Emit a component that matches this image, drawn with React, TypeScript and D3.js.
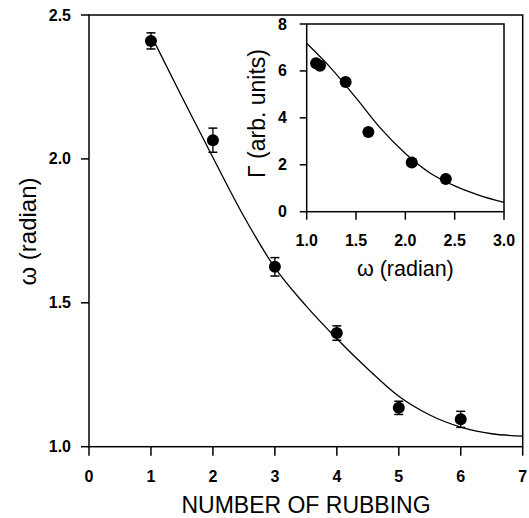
import React from "react";
import * as d3 from "d3";

const rubbing = [1, 2, 3, 4, 5, 6];
const omega = [2.41, 2.065, 1.625, 1.395, 1.135, 1.095];
const omegaErr = [0.028, 0.042, 0.032, 0.025, 0.023, 0.028];

const fitX = [1, 1.5, 2, 2.5, 3, 3.5, 4, 4.5, 5, 5.5, 6, 6.5, 7];
const fitY = [2.43, 2.215, 2.005, 1.8, 1.622, 1.49, 1.375, 1.27, 1.175, 1.11, 1.068, 1.045, 1.037];

// Γ for each ω point (same order as omega)
const gamma = [1.39, 2.1, 3.4, 5.53, 6.22, 6.33];
const insetFitX = [1.0, 1.25, 1.5, 1.75, 2.0, 2.25, 2.5, 2.75, 3.0];
const insetFitY = [7.18, 6.1, 4.85, 3.55, 2.48, 1.65, 1.1, 0.7, 0.4];

const mainXTicks = [0, 1, 2, 3, 4, 5, 6, 7];
const mainYTicks = [1.0, 1.5, 2.0, 2.5];
const insetXTicks = [1.0, 1.5, 2.0, 2.5, 3.0];
const insetYTicks = [0, 2, 4, 6, 8];

const FONT = "'Liberation Sans', Arial, Helvetica, sans-serif";

export default function App() {
  const W = 529, H = 518;
  const x = d3.scaleLinear().domain([0, 7]).range([89, 522.7]);
  const y = d3.scaleLinear().domain([1, 2.5]).range([446.7, 15]);
  const ix = d3.scaleLinear().domain([1, 3]).range([306.7, 504]);
  const iy = d3.scaleLinear().domain([0, 8]).range([211.7, 24]);

  const mainLine = d3
    .line<number>()
    .x((d, i) => x(fitX[i]))
    .y((d) => y(d))
    .curve(d3.curveMonotoneX)(fitY) as string;
  const insetLine = d3
    .line<number>()
    .x((d, i) => ix(insetFitX[i]))
    .y((d) => iy(d))
    .curve(d3.curveMonotoneX)(insetFitY) as string;

  const axisW = 1.5;
  const tickLen = 8;

  return (
    <svg
      width={W}
      height={H}
      style={{ position: "absolute", left: 0, top: 0, background: "#fff" }}
      fontFamily={FONT}
    >
      <rect x={0} y={0} width={W} height={H} fill="#fff" />
      {/* main frame */}
      <rect
        x={x(0)}
        y={y(2.5)}
        width={x(7) - x(0)}
        height={y(1) - y(2.5)}
        fill="none"
        stroke="#000"
        strokeWidth={axisW}
      />
      {mainXTicks.map((t) => (
        <g key={"mx" + t}>
          <line x1={x(t)} x2={x(t)} y1={y(1)} y2={y(1) + tickLen + 1} stroke="#000" strokeWidth={axisW} />
          <text x={x(t)} y={482} textAnchor="middle" fontSize={16} fontWeight="bold">
            {t}
          </text>
        </g>
      ))}
      {mainYTicks.map((t) => (
        <g key={"my" + t}>
          <line x1={x(0) - tickLen} x2={x(0)} y1={y(t)} y2={y(t)} stroke="#000" strokeWidth={axisW} />
          <text x={71} y={y(t) + 5.5} textAnchor="end" fontSize={16} fontWeight="bold">
            {d3.format(".1f")(t)}
          </text>
        </g>
      ))}
      <text x={306} y={513} textAnchor="middle" fontSize={23}>
        NUMBER OF RUBBING
      </text>
      <text
        transform={`translate(35.5,231.5) rotate(-90)`}
        textAnchor="middle"
        fontSize={24}
      >
        ω (radian)
      </text>
      <path d={mainLine} fill="none" stroke="#000" strokeWidth={1.3} />
      {rubbing.map((r, i) => (
        <g key={"mp" + i}>
          <line x1={x(r)} x2={x(r)} y1={y(omega[i] - omegaErr[i])} y2={y(omega[i] + omegaErr[i])} stroke="#000" strokeWidth={1.3} />
          <line x1={x(r) - 4.5} x2={x(r) + 4.5} y1={y(omega[i] - omegaErr[i])} y2={y(omega[i] - omegaErr[i])} stroke="#000" strokeWidth={1.5} />
          <line x1={x(r) - 4.5} x2={x(r) + 4.5} y1={y(omega[i] + omegaErr[i])} y2={y(omega[i] + omegaErr[i])} stroke="#000" strokeWidth={1.5} />
          <circle cx={x(r)} cy={y(omega[i])} r={6} fill="#000" />
        </g>
      ))}

      {/* inset */}
      <rect
        x={ix(1)}
        y={iy(8)}
        width={ix(3) - ix(1)}
        height={iy(0) - iy(8)}
        fill="#fff"
        stroke="#000"
        strokeWidth={axisW}
      />
      {insetXTicks.map((t) => (
        <g key={"ix" + t}>
          <line x1={ix(t)} x2={ix(t)} y1={iy(0)} y2={iy(0) + 8} stroke="#000" strokeWidth={axisW} />
          <text x={ix(t)} y={245.7} textAnchor="middle" fontSize={16} fontWeight="bold">
            {d3.format(".1f")(t)}
          </text>
        </g>
      ))}
      {insetYTicks.map((t) => (
        <g key={"iy" + t}>
          <line x1={ix(1) - 7} x2={ix(1)} y1={iy(t)} y2={iy(t)} stroke="#000" strokeWidth={axisW} />
          <text x={287} y={iy(t) + 5.5} textAnchor="end" fontSize={16} fontWeight="bold">
            {t}
          </text>
        </g>
      ))}
      <text x={ix(2)} y={276} textAnchor="middle" fontSize={21.5}>
        ω (radian)
      </text>
      <text transform={`translate(265,113.5) rotate(-90)`} textAnchor="middle" fontSize={23}>
        Γ (arb. units)
      </text>
      <path d={insetLine} fill="none" stroke="#000" strokeWidth={1.3} />
      {omega.map((w, i) => (
        <circle key={"ip" + i} cx={ix(w)} cy={iy(gamma[i])} r={6} fill="#000" />
      ))}
    </svg>
  );
}
